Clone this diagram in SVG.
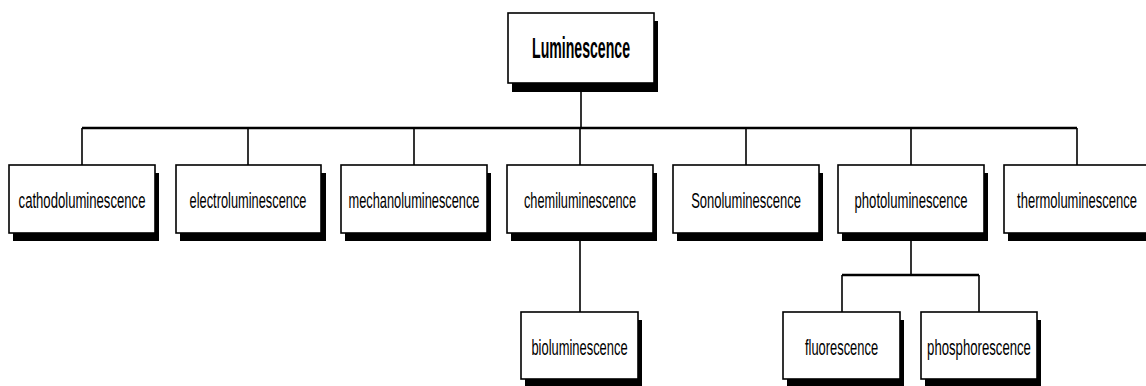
<svg xmlns="http://www.w3.org/2000/svg" width="1146" height="386" viewBox="0 0 1146 386">
<style>
.box{fill:#fff;stroke:#000;stroke-width:1.6}
.sh{fill:#000}
.t{font-family:"Liberation Sans",Arial,sans-serif;font-size:22px;text-anchor:middle;fill:#000}
.tb{font-family:"Liberation Sans",Arial,sans-serif;font-size:30px;font-weight:bold;text-anchor:middle;fill:#000}
.c{stroke:#000;stroke-width:1.6;fill:none}
.bar{stroke:#000;stroke-width:2.4;fill:none}
</style>
<rect width="1146" height="386" fill="#fff"/>
<g id="connectors">
<line class="c" x1="581" y1="83" x2="581" y2="128"/>
<line class="bar" x1="82" y1="128" x2="1077" y2="128"/>
<line class="c" x1="82" y1="128" x2="82" y2="165"/>
<line class="c" x1="248" y1="128" x2="248" y2="165"/>
<line class="c" x1="414" y1="128" x2="414" y2="165"/>
<line class="c" x1="580" y1="128" x2="580" y2="165"/>
<line class="c" x1="746" y1="128" x2="746" y2="165"/>
<line class="c" x1="911" y1="128" x2="911" y2="165"/>
<line class="c" x1="1077" y1="128" x2="1077" y2="165"/>
<line class="c" x1="580" y1="241" x2="580" y2="312"/>
<line class="c" x1="911" y1="241" x2="911" y2="275"/>
<line class="bar" x1="842" y1="275" x2="979" y2="275"/>
<line class="c" x1="842" y1="275" x2="842" y2="312"/>
<line class="c" x1="979" y1="275" x2="979" y2="312"/>
</g>
<g id="luminescence">
<rect class="sh" x="512" y="21" width="146" height="71"/>
<rect class="box" x="508" y="13" width="146" height="70"/>
<text class="tb" transform="translate(581,58) scale(0.47,1)" x="0" y="0" textLength="208.5" lengthAdjust="spacingAndGlyphs">Luminescence</text>
</g>
<g id="cathodoluminescence">
<rect class="sh" x="13" y="173" width="146" height="68"/>
<rect class="box" x="9" y="165" width="146" height="68"/>
<text class="t" transform="translate(82,208) scale(0.59,1)" x="0" y="0" textLength="215" lengthAdjust="spacingAndGlyphs">cathodoluminescence</text>
</g>
<g id="electroluminescence">
<rect class="sh" x="180" y="173" width="146" height="68"/>
<rect class="box" x="176" y="165" width="145" height="68"/>
<text class="t" transform="translate(248,208) scale(0.59,1)" x="0" y="0" textLength="198" lengthAdjust="spacingAndGlyphs">electroluminescence</text>
</g>
<g id="mechanoluminescence">
<rect class="sh" x="345" y="173" width="146" height="68"/>
<rect class="box" x="341" y="165" width="146" height="68"/>
<text class="t" transform="translate(414,208) scale(0.59,1)" x="0" y="0" textLength="222" lengthAdjust="spacingAndGlyphs">mechanoluminescence</text>
</g>
<g id="chemiluminescence">
<rect class="sh" x="511" y="173" width="146" height="68"/>
<rect class="box" x="507" y="165" width="146" height="68"/>
<text class="t" transform="translate(580,208) scale(0.59,1)" x="0" y="0" textLength="190" lengthAdjust="spacingAndGlyphs">chemiluminescence</text>
</g>
<g id="sonoluminescence">
<rect class="sh" x="677" y="173" width="146" height="68"/>
<rect class="box" x="673" y="165" width="146" height="68"/>
<text class="t" transform="translate(746,208) scale(0.59,1)" x="0" y="0" textLength="186" lengthAdjust="spacingAndGlyphs">Sonoluminescence</text>
</g>
<g id="photoluminescence">
<rect class="sh" x="842" y="173" width="146" height="68"/>
<rect class="box" x="838" y="165" width="146" height="68"/>
<text class="t" transform="translate(911,208) scale(0.59,1)" x="0" y="0" textLength="191.5" lengthAdjust="spacingAndGlyphs">photoluminescence</text>
</g>
<g id="thermoluminescence">
<rect class="sh" x="1008" y="173" width="146" height="68"/>
<rect class="box" x="1004" y="165" width="146" height="68"/>
<text class="t" transform="translate(1077,208) scale(0.59,1)" x="0" y="0" textLength="203" lengthAdjust="spacingAndGlyphs">thermoluminescence</text>
</g>
<g id="bioluminescence">
<rect class="sh" x="525" y="320" width="117" height="66"/>
<rect class="box" x="521" y="312" width="117" height="67"/>
<text class="t" transform="translate(579.5,355) scale(0.59,1)" x="0" y="0" textLength="163" lengthAdjust="spacingAndGlyphs">bioluminescence</text>
</g>
<g id="fluorescence">
<rect class="sh" x="787" y="320" width="117" height="66"/>
<rect class="box" x="783" y="312" width="117" height="67"/>
<text class="t" transform="translate(841.5,355) scale(0.59,1)" x="0" y="0" textLength="124" lengthAdjust="spacingAndGlyphs">fluorescence</text>
</g>
<g id="phosphorescence">
<rect class="sh" x="925" y="320" width="116" height="66"/>
<rect class="box" x="921" y="312" width="116" height="67"/>
<text class="t" transform="translate(979,355) scale(0.59,1)" x="0" y="0" textLength="176" lengthAdjust="spacingAndGlyphs">phosphorescence</text>
</g>
</svg>
